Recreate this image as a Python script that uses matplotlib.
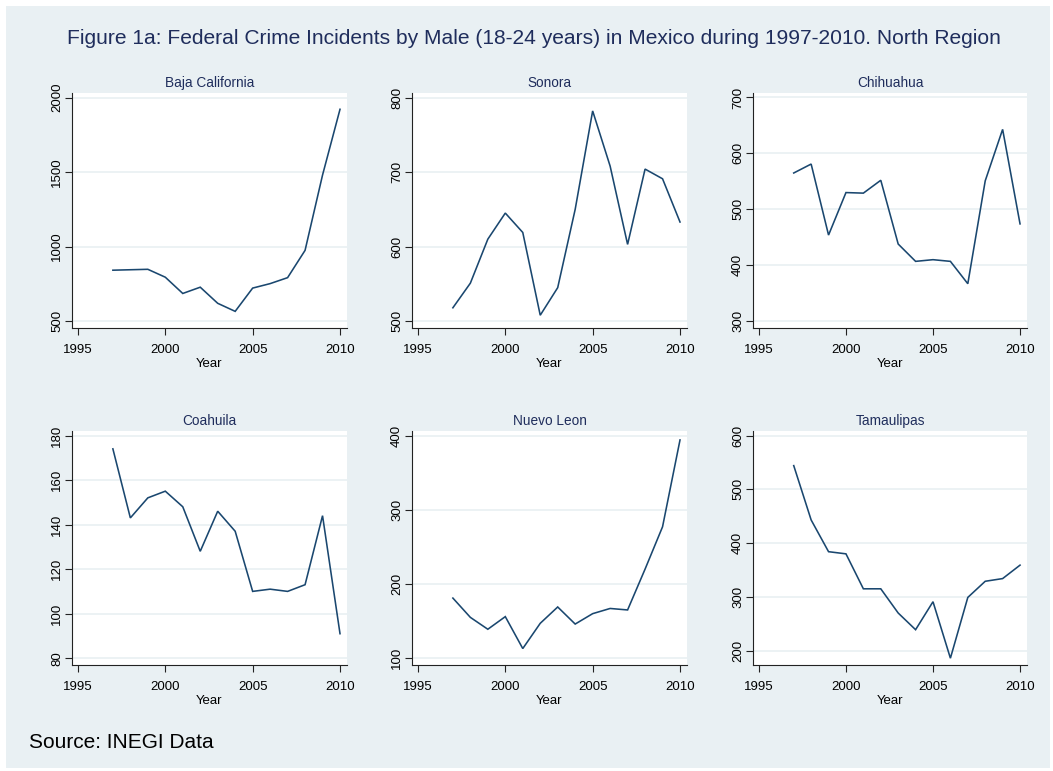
import matplotlib
matplotlib.use("Agg")
import matplotlib.pyplot as plt
from matplotlib.patches import Rectangle

plt.rcParams["font.family"] = ["Liberation Sans", "DejaVu Sans"]

years = list(range(1997, 2011))

states = ["Baja California", "Sonora", "Chihuahua",
          "Coahuila", "Nuevo Leon", "Tamaulipas"]

baja_california = [842, 845, 848, 795, 686, 728, 620, 566, 722, 752, 792, 975, 1480, 1921]
sonora = [518, 551, 610, 645, 619, 508, 545, 650, 782, 708, 603, 704, 691, 633]
chihuahua = [565, 581, 454, 530, 529, 552, 438, 407, 410, 407, 367, 551, 643, 474]
coahuila = [174, 143, 152, 155, 148, 128, 146, 137, 110, 111, 110, 113, 144, 91]
nuevo_leon = [181, 155, 139, 156, 113, 147, 169, 146, 160, 167, 165, 220, 277, 394]
tamaulipas = [544, 443, 384, 380, 315, 315, 270, 239, 291, 186, 299, 329, 334, 359]

series = [baja_california, sonora, chihuahua, coahuila, nuevo_leon, tamaulipas]

y_ticks = [
    [500, 1000, 1500, 2000],
    [500, 600, 700, 800],
    [300, 400, 500, 600, 700],
    [80, 100, 120, 140, 160, 180],
    [100, 200, 300, 400],
    [200, 300, 400, 500, 600],
]
x_ticks = [1995, 2000, 2005, 2010]

title = ("Figure 1a: Federal Crime Incidents by Male (18-24 years) "
         "in Mexico during 1997-2010. North Region")
source = "Source: INEGI Data"

W, H = 1053, 771
BG = "#e9f0f3"
LINE = "#1a476f"
NAVY = "#1f2d5c"
GRID = "#ebf1f3"

fig = plt.figure(figsize=(W / 100, H / 100), dpi=100)
fig.patch.set_facecolor("white")
fig.add_artist(Rectangle((6 / W, 1 - 768 / H), (1050 - 6) / W, (768 - 6) / H,
                         transform=fig.transFigure, facecolor=BG,
                         edgecolor="none", zorder=-10))

fig.text(534 / W, 1 - 38 / H, title, ha="center", va="center",
         fontsize=15.1, color=NAVY)
fig.text(29 / W, 1 - 742 / H, source, ha="left", va="center",
         fontsize=15, color="black")

# panel boxes in pixels: (left, top, right, bottom)
col_lr = [(72, 347), (412, 687), (753, 1027)]
row_tb = [(93, 328), (431, 665)]
pad_top, pad_bottom = 4.5, 6.8   # plot-region margins, pixels

for i, (name, vals, yt) in enumerate(zip(states, series, y_ticks)):
    r, c = divmod(i, 3)
    l, rr = col_lr[c]
    t, b = row_tb[r]
    ax = fig.add_axes([l / W, 1 - b / H, (rr - l) / W, (b - t) / H])
    ax.set_facecolor("white")
    ax.plot(years, vals, color=LINE, lw=1.15, solid_joinstyle="miter")
    lo = min(yt[0], min(vals))
    hi = max(yt[-1], max(vals))
    upp = (hi - lo) / ((b - t) - pad_top - pad_bottom)
    ax.set_ylim(lo - pad_bottom * upp, hi + pad_top * upp)
    ax.set_xlim(1994.66, 2010.4)
    ax.set_yticks(yt)
    ax.set_xticks(x_ticks)
    ax.grid(axis="y", color=GRID, lw=1.3)
    ax.set_axisbelow(True)
    for s in ("top", "right"):
        ax.spines[s].set_visible(False)
    for s in ("left", "bottom"):
        ax.spines[s].set_color("#222222")
        ax.spines[s].set_linewidth(0.8)
    ax.tick_params(axis="both", direction="out", length=5, width=0.8,
                   color="#222222", labelsize=9.5, labelcolor="black")
    ax.tick_params(axis="y", pad=1.5)
    ax.tick_params(axis="x", pad=6.5)
    for lab in ax.get_yticklabels():
        lab.set_rotation(90)
        lab.set_va("center")
    ax.set_xlabel("Year", fontsize=9.5, labelpad=1.5)
    ax.set_title(name, fontsize=9.8, color=NAVY, pad=4)

fig.savefig("out.png", dpi=100, facecolor=fig.get_facecolor())
